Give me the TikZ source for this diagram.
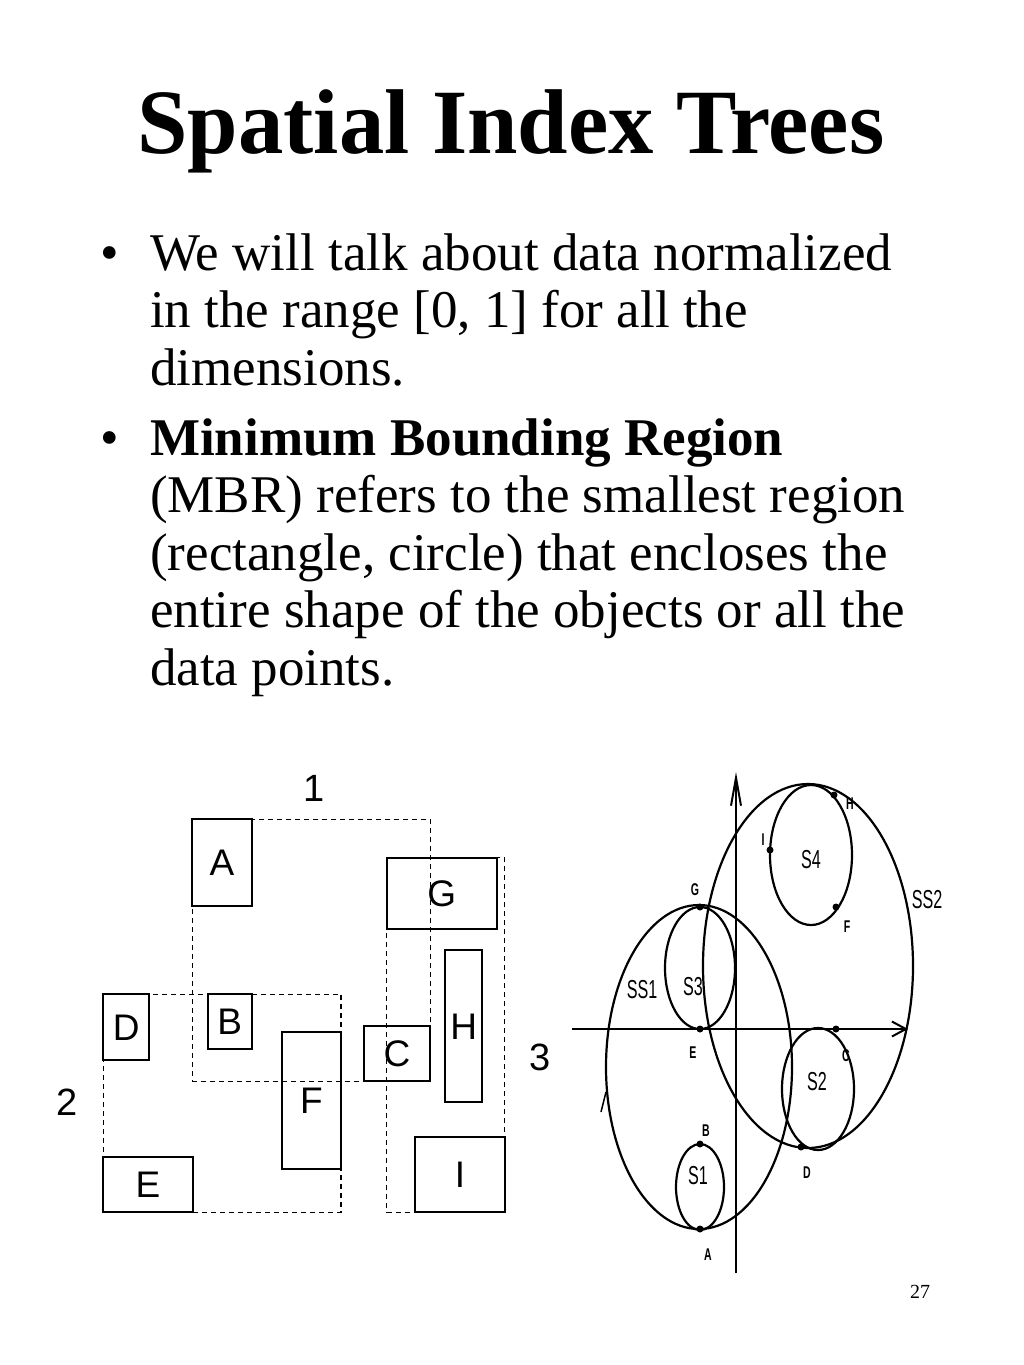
\documentclass[tikz,border=0pt]{standalone}
\usepackage{fontspec}
\setmainfont{Liberation Serif}
\setsansfont{Liberation Sans}
\usepackage{graphicx}
\usetikzlibrary{arrows.meta}

\newcommand{\nar}[1]{\scalebox{0.62}[1]{#1}}

\tikzset{
  obj/.style={draw, line width=2pt, inner sep=0pt, font=\fontsize{37}{37}\sffamily},
  mbr/.style={draw, line width=1.5pt, dash pattern=on 5pt off 4pt, inner sep=0pt},
  grp/.style={inner sep=0pt, font=\fontsize{38}{38}\sffamily},
  ring/.style={line width=2.2pt},
  axis/.style={line width=2pt},
  pt/.style={circle, fill, inner sep=0pt, minimum size=7pt},
  tag/.style={inner sep=0pt, font=\fontsize{17}{17}\sffamily\bfseries},
  big/.style={inner sep=0pt, font=\fontsize{26}{26}\sffamily},
  txt/.style={anchor=base west, inner sep=0pt, font=\fontsize{53}{57}\selectfont}
}

\begin{document}
\begin{tikzpicture}[x=1pt, y=-1pt]
\useasboundingbox (0,0) rectangle (1024,1365);

% title
\node[anchor=base, inner sep=0pt, font=\fontsize{92}{92}\selectfont\bfseries] (title) at (511,153) {\scalebox{0.985}[1]{Spatial Index Trees}};

% bullet points
\node[txt] (dot1) at (100,270) {•};
\node[txt] (l1) at (150,270) {We will talk about data normalized};
\node[txt] (l2) at (150,327) {in the range [0, 1] for all the};
\node[txt] (l3) at (150,385) {dimensions.};
\node[txt] (dot2) at (100,455) {•};
\node[txt] (l4) at (150,455) {\textbf{Minimum Bounding Region}};
\node[txt] (l5) at (150,512) {(MBR) refers to the smallest region};
\node[txt] (l6) at (150,570) {(rectangle, circle) that encloses the};
\node[txt] (l7) at (150,627) {entire shape of the objects or all the};
\node[txt] (l8) at (150,685) {data points.};

% rectangles: the groups
\node[mbr, minimum width=238, minimum height=262] (g1) at (311.3,950.3) {};
\node[mbr, minimum width=237.7, minimum height=218] (g2) at (222.2,1103.3) {};
\node[mbr, minimum width=118, minimum height=354.6] (g3) at (445.7,1035) {};
\node[grp] (n1) at (314,788) {1};
\node[grp] (n2) at (67,1102) {2};
\node[grp] (n3) at (540,1057) {3};

% rectangles: the objects
\node[obj, minimum width=59.4, minimum height=86.7] (A) at (222,862.7) {A};
\node[obj, minimum width=44, minimum height=55] (B) at (229.7,1021.8) {B};
\node[obj, minimum width=66.6, minimum height=55] (C) at (397,1053.8) {C};
\node[obj, minimum width=46, minimum height=66] (D) at (126.3,1027.3) {D};
\node[obj, minimum width=89.4, minimum height=55] (E) at (148,1184.8) {E};
\node[obj, minimum width=59, minimum height=136.7] (F) at (311.5,1100.3) {F};
\node[obj, minimum width=110.3, minimum height=71.6] (G) at (441.8,893.5) {G};
\node[obj, minimum width=36.7, minimum height=152] (H) at (463.7,1026.3) {H};
\node[obj, minimum width=89.4, minimum height=75.6] (I) at (460,1174.5) {I};

% circles: axes
\coordinate (xs) at (572,1029);
\coordinate (xe) at (908,1029);
\coordinate (ys) at (736,1273);
\coordinate (ye) at (736,772);
\draw[axis, -{Straight Barb[length=14pt, width=15pt]}] (xs) -- (xe);
\draw[axis, -{Straight Barb[length=28pt, width=10pt]}] (ys) -- (ye);

% circles: regions
\coordinate (cSS1) at (699,1067);
\coordinate (cSS2) at (808,966);
\coordinate (cS1) at (700,1187);
\coordinate (cS2) at (818,1089);
\coordinate (cS3) at (700,968);
\coordinate (cS4) at (811,855);
\draw[ring] (cSS1) ellipse [x radius=93, y radius=162];
\draw[ring] (cSS2) ellipse [x radius=105, y radius=182];
\draw[ring] (cS1) ellipse [x radius=24, y radius=43];
\draw[ring] (cS2) ellipse [x radius=36, y radius=61];
\draw[ring] (cS3) ellipse [x radius=35, y radius=61];
\draw[ring] (cS4) ellipse [x radius=41, y radius=70];
\draw[line width=1.5pt] (606,1092) -- (601,1112);

% circles: points
\node[pt] (pA) at (700,1229) {};
\node[pt] (pB) at (700,1144) {};
\node[pt] (pC) at (836,1029) {};
\node[pt] (pD) at (801,1147) {};
\node[pt] (pE) at (700,1029) {};
\node[pt] (pF) at (836,907) {};
\node[pt] (pG) at (700,907) {};
\node[pt] (pH) at (834,795) {};
\node[pt] (pI) at (770,850) {};

% circles: labels
\node[tag] (tA) at (708,1255) {\nar{A}};
\node[tag] (tB) at (706,1131) {\nar{B}};
\node[tag] (tC) at (846,1056) {\nar{C}};
\node[tag] (tD) at (807,1173) {\nar{D}};
\node[tag] (tE) at (693,1053) {\nar{E}};
\node[tag] (tF) at (847,927) {\nar{F}};
\node[tag] (tG) at (695,890) {\nar{G}};
\node[tag] (tH) at (850,804) {\nar{H}};
\node[tag] (tI) at (763,840) {\nar{I}};
\node[big] (SS1) at (642,990) {\nar{SS1}};
\node[big] (SS2) at (927,900) {\nar{SS2}};
\node[big] (S1) at (698,1176) {\nar{S1}};
\node[big] (S2) at (817,1082) {\nar{S2}};
\node[big] (S3) at (693,987) {\nar{S3}};
\node[big] (S4) at (811,860) {\nar{S4}};

% page number
\node[inner sep=0pt, font=\fontsize{20}{20}\selectfont] (page) at (920,1292) {27};
\end{tikzpicture}
\end{document}
